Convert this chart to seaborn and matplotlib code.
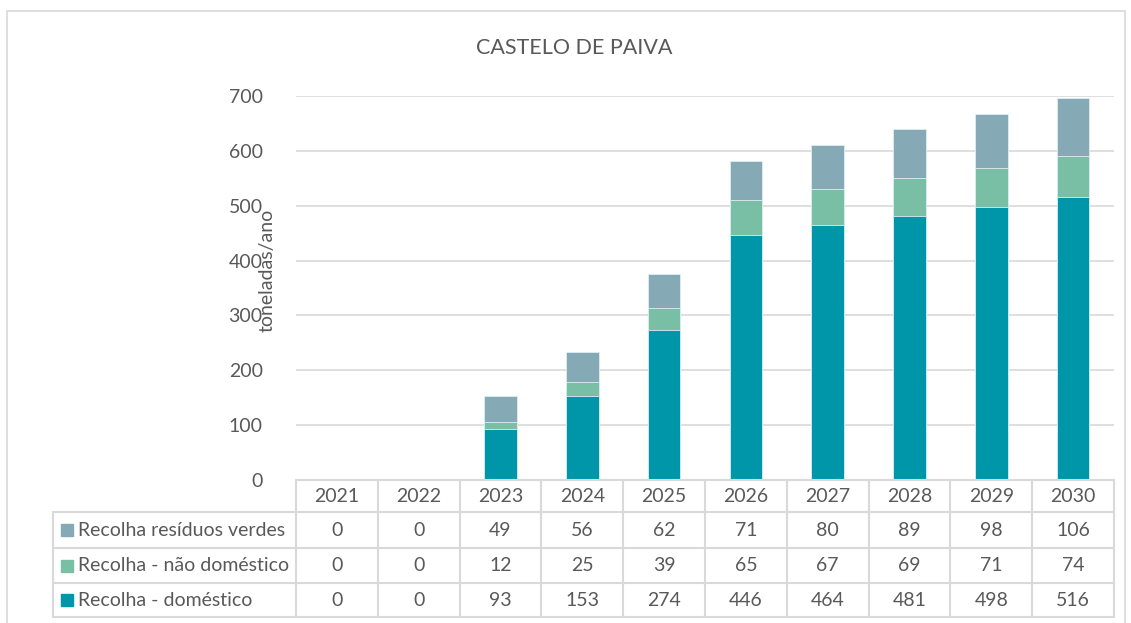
import matplotlib.pyplot as plt
import matplotlib.transforms as mtransforms
from matplotlib.patches import Rectangle
from matplotlib.lines import Line2D
import pandas as pd
import seaborn as sns

# Data
years = ['2021', '2022', '2023', '2024', '2025', '2026', '2027', '2028', '2029', '2030']
verdes = [0, 0, 49, 56, 62, 71, 80, 89, 98, 106]
nao_domestico = [0, 0, 12, 25, 39, 65, 67, 69, 71, 74]
domestico = [0, 0, 93, 153, 274, 446, 464, 481, 498, 516]
series_names = ['Recolha resíduos verdes', 'Recolha - não doméstico', 'Recolha - doméstico']
series_colors = ['#86AAB5', '#79BFA6', '#0096A9']

df = pd.DataFrame({'Ano': years, 'verdes': verdes, 'nao': nao_domestico, 'dom': domestico})
df['total'] = df['dom'] + df['nao'] + df['verdes']
df['dom_nao'] = df['dom'] + df['nao']

sns.set_theme(style='white')
plt.rcParams['font.family'] = ['Lato', 'DejaVu Sans']
grey = '#595959'
line_c = '#D9D9D9'
fs = 14

W, H = 1131, 623
fig = plt.figure(figsize=(W / 100, H / 100), dpi=100)

def fx(px):
    return px / W

def fy(py):
    return 1 - py / H

# chart border
fig.patches.append(Rectangle((fx(7), fy(640)), fx(1125) - fx(7), fy(11) - fy(640),
                             transform=fig.transFigure, fill=False, edgecolor=line_c, lw=1.2))

ax = fig.add_axes([fx(296), fy(480), fx(1114) - fx(296), fy(96) - fy(480)])

# stacked bars drawn as cumulative layers
for col, c in zip(['total', 'dom_nao', 'dom'], series_colors):
    sns.barplot(data=df, x='Ano', y=col, color=c, width=0.4, ax=ax,
                edgecolor='#DDEFF2', linewidth=0.6, saturation=1)

ax.set_ylim(0, 700)
ax.set_xlim(-0.5, 9.5)
ax.set_yticks(range(0, 701, 100))
ax.yaxis.grid(True, color=line_c, lw=1.2)
ax.set_axisbelow(True)
for s in ax.spines.values():
    s.set_visible(False)
ax.set_xticks([])
ax.set_xlabel('')
ax.set_ylabel('')
ax.tick_params(axis='y', length=0, pad=24, labelsize=fs, labelcolor=grey)

fig.text(fx(574), fy(48), 'CASTELO DE PAIVA', ha='center', va='center', fontsize=15.5, color=grey)
fig.text(fx(267), fy(270), 'toneladas/ano', rotation=90, ha='center', va='center', fontsize=fs, color=grey)

# data table below the plot
tr = mtransforms.blended_transform_factory(ax.transData, fig.transFigure)
row_tops = [480, 512, 548, 583, 617]
lw = 1.5
fig.add_artist(Line2D([-0.5, 9.5], [fy(480)] * 2, transform=tr, color=line_c, lw=lw))
for py in row_tops[1:]:
    fig.add_artist(Line2D([fx(53), fx(1114)], [fy(py)] * 2, transform=fig.transFigure, color=line_c, lw=lw))
fig.add_artist(Line2D([fx(53)] * 2, [fy(512), fy(617)], transform=fig.transFigure, color=line_c, lw=lw))
for i in range(11):
    fig.add_artist(Line2D([i - 0.5] * 2, [fy(480), fy(617)], transform=tr, color=line_c, lw=lw))

for i, y in enumerate(years):
    fig.text(i, fy(496), y, transform=tr, ha='center', va='center', fontsize=fs, color=grey)

rows = [verdes, nao_domestico, domestico]
for r, (name, vals, c) in enumerate(zip(series_names, rows, series_colors)):
    yc = (row_tops[r + 1] + row_tops[r + 2]) / 2
    fig.patches.append(Rectangle((fx(61), fy(yc + 6)), fx(12), fy(yc - 6) - fy(yc + 6),
                                 transform=fig.transFigure, color=c))
    fig.text(fx(78), fy(yc), name, ha='left', va='center', fontsize=fs, color=grey)
    for i, v in enumerate(vals):
        fig.text(i, fy(yc), str(v), transform=tr, ha='center', va='center', fontsize=fs, color=grey)

fig.savefig('out.png', dpi=100)
